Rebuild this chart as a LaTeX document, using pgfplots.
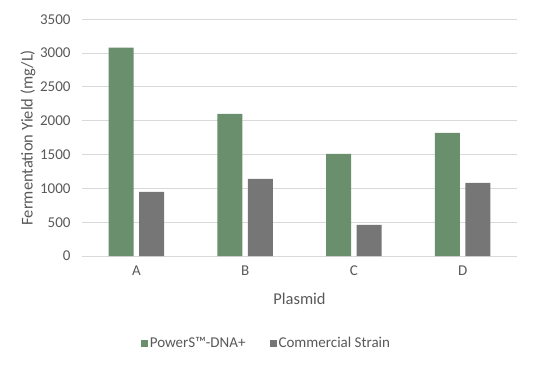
\documentclass[border=0pt]{standalone}
\usepackage{pgfplots}
\pgfplotsset{compat=1.18}
\usepackage{fontspec}
\setmainfont{Carlito}
\definecolor{barGreen}{HTML}{6A8F6C}
\definecolor{barGrey}{HTML}{767676}
\definecolor{gridGrey}{HTML}{D9D9D9}
\definecolor{txtGrey}{HTML}{595959}
\begin{document}
\begin{tikzpicture}[x=1pt,y=1pt]
\path[use as bounding box] (0,0) rectangle (540,364);
\begin{axis}[
  at={(82pt,108pt)}, anchor=south west,
  scale only axis, width=435pt, height=236.7pt,
  ybar,
  xmin=-0.5, xmax=3.5, ymin=0, ymax=3500,
  xtick={0,1,2,3}, xticklabels={A,B,C,D},
  ytick={0,500,...,3500},
  /pgf/number format/1000 sep={},
  /pgf/number format/assume math mode=true,
  major tick length=0pt,
  axis y line*=left, axis x line*=bottom,
  y axis line style={draw=none},
  x axis line style={draw=gridGrey, line width=0.9pt},
  ymajorgrids, grid style={draw=gridGrey, line width=0.9pt},
  tick label style={font=\fontsize{15}{17}\selectfont, text=txtGrey},
  yticklabel style={xshift=-8pt},
  xticklabel style={yshift=-6pt},
  xlabel={Plasmid}, ylabel={Fermentation Yield (mg/L)},
  label style={font=\fontsize{16.5}{18}\selectfont, text=txtGrey},
  xlabel style={at={(axis description cs:0.5,0)}, anchor=center, yshift=-43pt},
  ylabel style={at={(axis description cs:-0.124,0.5)}, anchor=center},
  legend style={draw=none, at={(axis description cs:0.424,-0.3676)}, anchor=center,
    legend columns=2, font=\fontsize{15}{17}\selectfont, text=txtGrey,
    /tikz/every even column/.append style={column sep=22pt},
    inner sep=0pt},
  legend image code/.code={\fill[#1] (0pt,-3.5pt) rectangle (7pt,3.5pt);},
  clip=false,
]
\addplot[fill=barGreen, draw=none, bar width=0.23, bar shift=-0.14] coordinates {(0,3080) (1,2100) (2,1510) (3,1820)};
\addplot[fill=barGrey, draw=none, bar width=0.23, bar shift=0.14] coordinates {(0,950) (1,1140) (2,460) (3,1080)};
\legend{PowerS™-DNA+, Commercial Strain}
\end{axis}
\end{tikzpicture}
\end{document}
